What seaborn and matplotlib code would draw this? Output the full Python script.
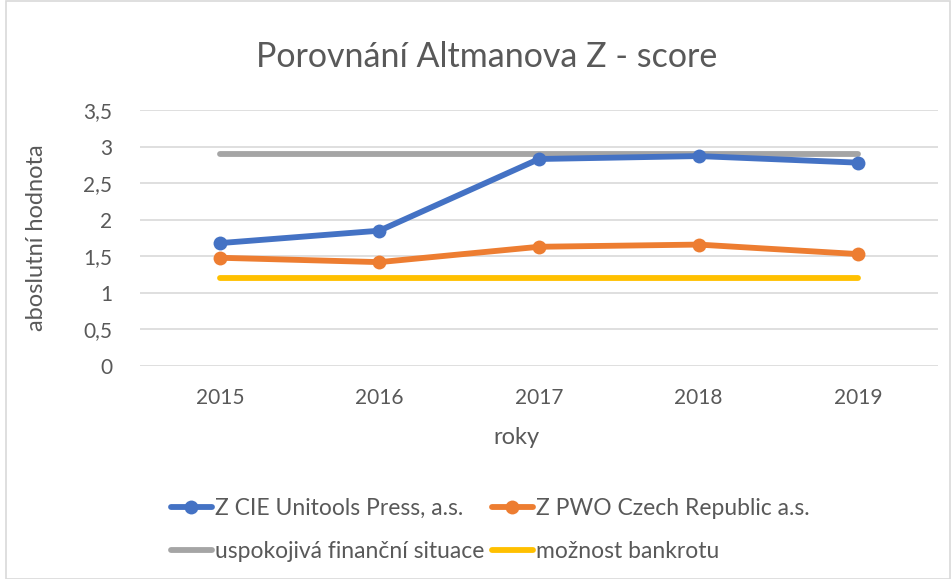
import matplotlib
matplotlib.use('Agg')
import matplotlib.pyplot as plt
import seaborn as sns
import pandas as pd
from matplotlib.patches import Rectangle
from matplotlib.lines import Line2D

roky = ['2015', '2016', '2017', '2018', '2019']
z_cie = [1.68, 1.85, 2.83, 2.87, 2.78]
z_pwo = [1.48, 1.42, 1.63, 1.66, 1.53]
uspokojiva = [2.9, 2.9, 2.9, 2.9, 2.9]
bankrot = [1.2, 1.2, 1.2, 1.2, 1.2]
y_ticks = [0, 0.5, 1, 1.5, 2, 2.5, 3, 3.5]
y_labels = ['0', '0,5', '1', '1,5', '2', '2,5', '3', '3,5']

sns.set_style('white')
plt.rcParams['font.family'] = ['Lato', 'DejaVu Sans']

tabela = pd.DataFrame({'rok': range(len(roky)), 'cie': z_cie, 'pwo': z_pwo,
                       'usp': uspokojiva, 'bank': bankrot})

fig = plt.figure(figsize=(9.51, 5.79), dpi=100)
ax = fig.add_axes([140 / 951, 1 - 366 / 579, 798 / 951, 256 / 579])

text_col = '#595959'
sns.lineplot(data=tabela, x='rok', y='usp', ax=ax, color='#A5A5A5', lw=4.2,
             solid_capstyle='round', zorder=2)
sns.lineplot(data=tabela, x='rok', y='bank', ax=ax, color='#FFC000', lw=4.2,
             solid_capstyle='round', zorder=2)
sns.lineplot(data=tabela, x='rok', y='cie', ax=ax, color='#4472C4', lw=4.2,
             marker='o', markersize=10, markeredgewidth=0, zorder=3)
sns.lineplot(data=tabela, x='rok', y='pwo', ax=ax, color='#ED7D31', lw=4.2,
             marker='o', markersize=10, markeredgewidth=0, zorder=3)

ax.set_xlim(-0.5, len(roky) - 0.5)
ax.set_ylim(0, 3.5)
ax.set_xticks(range(len(roky)))
ax.set_xticklabels(roky)
ax.set_yticks(y_ticks)
ax.set_yticklabels(y_labels)
ax.tick_params(axis='both', length=0, labelsize=15, labelcolor=text_col)
ax.tick_params(axis='x', pad=16)
ax.tick_params(axis='y', pad=20)
ax.grid(axis='y', color='#D9D9D9', lw=1.2)
for s in ax.spines.values():
    s.set_visible(False)
ax.set_xlabel('roky', fontsize=17, color=text_col)
ax.set_ylabel('aboslutní hodnota', fontsize=17, color=text_col)
ax.xaxis.set_label_coords(0.472, -0.24)
ax.yaxis.set_label_coords(-0.117, 0.5)

fig.text(487 / 951, 1 - 57 / 579, 'Porovnání Altmanova Z - score', ha='center',
         va='center', fontsize=24.5, color=text_col)

h_cie = Line2D([], [], color='#4472C4', lw=4.2, marker='o', markersize=10, markeredgewidth=0)
h_pwo = Line2D([], [], color='#ED7D31', lw=4.2, marker='o', markersize=10, markeredgewidth=0)
h_usp = Line2D([], [], color='#A5A5A5', lw=4.2, solid_capstyle='round')
h_bank = Line2D([], [], color='#FFC000', lw=4.2, solid_capstyle='round')
# legenda se plni po sloupcich
handles = [h_cie, h_usp, h_pwo, h_bank]
labels = ['Z CIE Unitools Press, a.s.', 'uspokojivá finanční situace',
          'Z PWO Czech Republic a.s.', 'možnost bankrotu']
leg = fig.legend(handles, labels, ncol=2, loc='center left',
                 bbox_to_anchor=(150 / 951, 1 - 530 / 579), frameon=False,
                 fontsize=16.5, handlelength=1.8, handletextpad=0.15,
                 columnspacing=0.3, labelspacing=1.0, labelcolor=text_col)

fig.patches.append(Rectangle((6 / 951, 0), 944 / 951, 0.999, transform=fig.transFigure,
                             fill=False, edgecolor='#D9D9D9', lw=1.2))

fig.savefig('out.png', dpi=100)
